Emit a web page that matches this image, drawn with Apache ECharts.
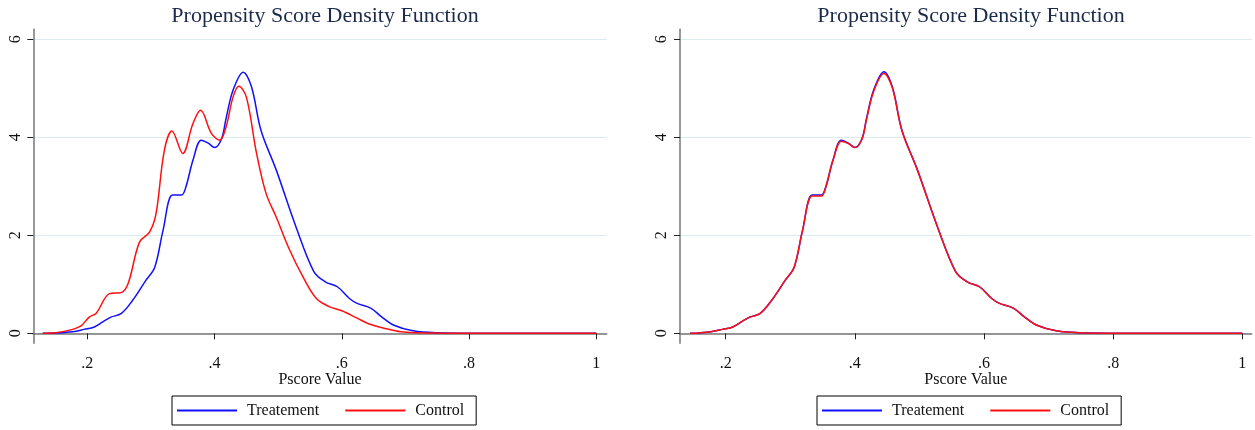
<!DOCTYPE html>
<html>
<head>
<meta charset="utf-8">
<script src="https://cdn.jsdelivr.net/npm/echarts@6/dist/echarts.min.js"></script>
<style>
  html, body { margin: 0; padding: 0; background: #fff; }
  #chart { width: 1255px; height: 430px; }
</style>
</head>
<body>
<div id="chart"></div>
<script>
// before matching
var treatX = [0.13, 0.15, 0.177, 0.195, 0.211, 0.225, 0.237, 0.253, 0.271, 0.292,
  0.306, 0.319, 0.334, 0.348, 0.355, 0.366, 0.379, 0.39, 0.400, 0.411, 0.418,
  0.429, 0.445, 0.458, 0.473, 0.497, 0.528, 0.556, 0.574, 0.593, 0.612,
  0.624, 0.646, 0.662, 0.681, 0.712, 0.75, 0.8, 0.9, 1.0];
var treatY = [0, 0.005, 0.03, 0.08, 0.13, 0.24, 0.33, 0.40, 0.67, 1.08,
  1.35, 2.10, 2.82, 2.82, 2.99, 3.53, 3.94, 3.88, 3.79, 3.97, 4.38,
  4.96, 5.33, 5.03, 4.14, 3.33, 2.17, 1.26, 1.05, 0.95, 0.71,
  0.61, 0.51, 0.34, 0.17, 0.05, 0.01, 0.002, 0, 0];
var ctrlX = [0.13, 0.15, 0.177, 0.19, 0.203, 0.214, 0.235, 0.253, 0.264, 0.282,
  0.298, 0.308, 0.321, 0.333, 0.350, 0.366, 0.378, 0.395, 0.408, 0.418,
  0.429, 0.438, 0.450, 0.466, 0.481, 0.497, 0.518, 0.539, 0.560, 0.581,
  0.600, 0.624, 0.643, 0.668, 0.693, 0.72, 0.76, 0.8, 0.9, 1.0];
var ctrlY = [0, 0.01, 0.08, 0.15, 0.33, 0.41, 0.81, 0.83, 1.01, 1.86,
  2.07, 2.44, 3.73, 4.13, 3.67, 4.28, 4.55, 4.08, 3.94, 4.21,
  4.82, 5.04, 4.82, 3.67, 2.85, 2.37, 1.70, 1.15, 0.71, 0.54,
  0.46, 0.31, 0.19, 0.10, 0.03, 0.01, 0.003, 0, 0, 0];

// after matching
var matchedX = [0.145, 0.16, 0.177, 0.195, 0.211, 0.225, 0.237, 0.253, 0.271, 0.292,
  0.306, 0.319, 0.334, 0.348, 0.355, 0.366, 0.379, 0.39, 0.400, 0.411, 0.418,
  0.429, 0.445, 0.458, 0.473, 0.497, 0.528, 0.556, 0.574, 0.593, 0.612,
  0.624, 0.646, 0.662, 0.681, 0.712, 0.75, 0.8, 0.9, 1.0];
var matchedTreatY = [0, 0.008, 0.03, 0.08, 0.13, 0.24, 0.33, 0.40, 0.67, 1.08,
  1.35, 2.10, 2.82, 2.82, 2.99, 3.53, 3.94, 3.88, 3.79, 3.97, 4.38,
  4.96, 5.34, 5.03, 4.14, 3.33, 2.17, 1.26, 1.05, 0.95, 0.71,
  0.61, 0.51, 0.34, 0.17, 0.05, 0.01, 0.002, 0, 0];
var matchedCtrlY = [0, 0.008, 0.03, 0.08, 0.13, 0.24, 0.33, 0.40, 0.67, 1.08,
  1.35, 2.10, 2.80, 2.80, 2.98, 3.52, 3.92, 3.87, 3.79, 3.96, 4.36,
  4.93, 5.30, 5.01, 4.13, 3.33, 2.17, 1.26, 1.05, 0.95, 0.71,
  0.61, 0.51, 0.34, 0.17, 0.05, 0.01, 0.002, 0, 0];

var xTicks = [0.2, 0.4, 0.6, 0.8, 1];
var xTickLabels = ['.2', '.4', '.6', '.8', '1'];
var yTicks = [0, 2, 4, 6];
var yTickLabels = ['0', '2', '4', '6'];
var titleText = 'Propensity Score Density Function';
var xName = 'Pscore Value';
var seriesNames = ['Treatement', 'Control'];

function pairs(xs, ys) {
  return xs.map(function (x, i) { return [x, ys[i]]; });
}

var font = 'Liberation Serif, Times New Roman, serif';

function xAxisFor(idx, min, max) {
  return {
    type: 'value', gridIndex: idx, min: min, max: max,
    name: xName, nameLocation: 'middle', nameGap: 28, nameMoveOverlap: false,
    nameTextStyle: { fontFamily: font, fontSize: 16, color: '#111' },
    axisLine: { show: true, lineStyle: { color: '#777', width: 1.5 } },
    axisTick: { show: true, customValues: xTicks, length: 6, lineStyle: { color: '#222' } },
    axisLabel: {
      customValues: xTicks, margin: 12, fontFamily: font, fontSize: 16, color: '#111',
      formatter: function (v) { return xTickLabels[xTicks.indexOf(v)]; }
    },
    splitLine: { show: false }
  };
}

function yAxisFor(idx) {
  return {
    type: 'value', gridIndex: idx, min: -0.204, max: 6.204,
    axisLine: { show: true, lineStyle: { color: '#777', width: 1.5 } },
    axisTick: { show: true, customValues: yTicks, length: 6, lineStyle: { color: '#222' } },
    axisLabel: {
      customValues: yTicks, rotate: 90, margin: 10, fontFamily: font, fontSize: 16, color: '#111',
      formatter: function (v) { return yTickLabels[yTicks.indexOf(v)]; }
    },
    splitLine: { show: true, lineStyle: { color: '#dcebee', width: 1 } }
  };
}

function legendFor(leftX) {
  return {
    data: seriesNames, left: leftX, top: 396,
    orient: 'horizontal', icon: 'rect',
    borderColor: '#000', borderWidth: 1, borderRadius: 0,
    padding: [6, 12, 6, 5], itemGap: 26, itemWidth: 60, itemHeight: 2,
    textStyle: { fontFamily: font, fontSize: 16, color: '#111', padding: [0, 0, 0, 5], lineHeight: 17 }
  };
}

function lineSeries(name, color, xi, data) {
  return {
    name: name, type: 'line', xAxisIndex: xi, yAxisIndex: xi,
    data: data, smooth: 0.35, symbol: 'none',
    lineStyle: { color: color, width: 1.5 }, itemStyle: { color: color }
  };
}

var myChart = echarts.init(document.getElementById('chart'));
var option = {
  backgroundColor: '#fff',
  animation: false,
  title: [
    { text: titleText, left: 320, top: 0, textAlign: 'center',
      textStyle: { fontFamily: font, fontSize: 22, fontWeight: 'normal', color: '#1c2b4a' } },
    { text: titleText, left: 966, top: 0, textAlign: 'center',
      textStyle: { fontFamily: font, fontSize: 22, fontWeight: 'normal', color: '#1c2b4a' } }
  ],
  grid: [
    { left: 33.3, right: 648.3, top: 29.3, bottom: 86.7 },
    { left: 680, right: 3.3, top: 29.3, bottom: 86.7 }
  ],
  xAxis: [xAxisFor(0, 0.1151, 1.0163), xAxisFor(1, 0.1292, 1.0146)],
  yAxis: [yAxisFor(0), yAxisFor(1)],
  legend: [legendFor(172), legendFor(817)],
  series: [
    lineSeries(seriesNames[0], '#1010ff', 0, pairs(treatX, treatY)),
    lineSeries(seriesNames[1], '#ff1010', 0, pairs(ctrlX, ctrlY)),
    lineSeries(seriesNames[0], '#1010ff', 1, pairs(matchedX, matchedTreatY)),
    lineSeries(seriesNames[1], '#ff1010', 1, pairs(matchedX, matchedCtrlY))
  ]
};
myChart.setOption(option);
window.addEventListener('resize', function () {
  myChart.resize();
});
</script>
</body>
</html>
